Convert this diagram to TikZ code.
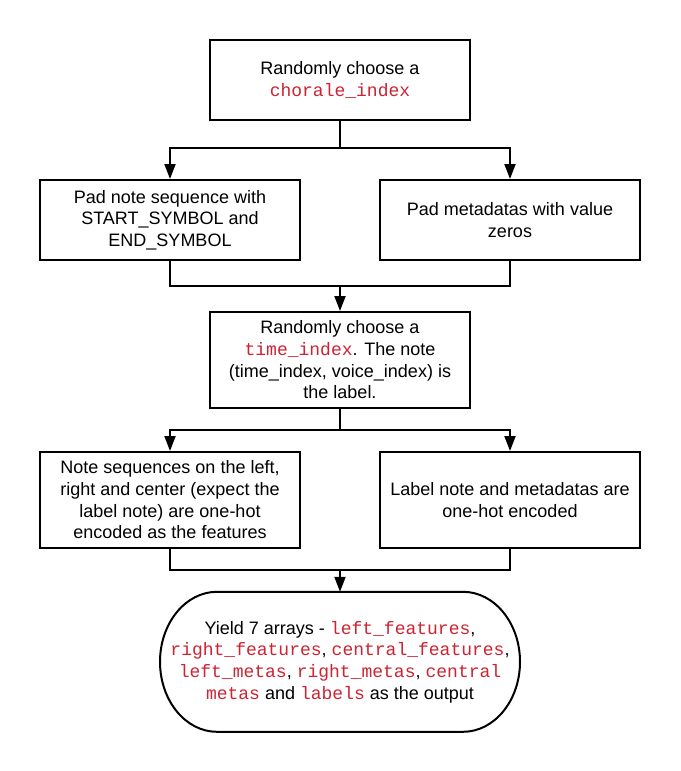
\documentclass[tikz,border=0pt]{standalone}
\usepackage{fontspec}
\setmainfont{Liberation Sans}
\setmonofont{Liberation Mono}
\usetikzlibrary{arrows.meta}
\definecolor{codered}{RGB}{205,35,50}
\newcommand{\code}[1]{\textcolor{codered}{\texttt{#1}}}

\begin{document}
\begin{tikzpicture}[
    x=1pt, y=-1pt,
    every node/.style={font=\fontsize{18}{21.7}\selectfont},
    stepbox/.style={draw, rectangle, line width=2pt, fill=white, align=center, minimum width=260pt, minimum height=80pt},
    tallbox/.style={stepbox, minimum height=96pt},
    endbox/.style={rectangle, align=center, minimum width=360pt, minimum height=140pt},
    line/.style={line width=2pt},
    arrow/.style={line width=2pt, -{Triangle[length=15pt,width=11pt]}}
]
\useasboundingbox (0,0) rectangle (680,771);

% First step
\node[stepbox] (chorale) at (340,80) {Randomly choose a\\\code{chorale\_index}};

% Padding
\node[stepbox] (padnotes) at (170,220) {Pad note sequence with\\START\_SYMBOL and\\END\_SYMBOL};
\node[stepbox] (padmetas) at (510,220) {Pad metadatas with value\\zeros};

% Choose the time index
\node[tallbox] (timeidx) at (340,360) {Randomly choose a\\\code{time\_index}. The note\\(time\_index, voice\_index) is\\the label.};

% Encoding
\node[tallbox] (features) at (170,500) {Note sequences on the left,\\right and center (expect the\\label note) are one-hot\\encoded as the features};
\node[tallbox] (labels) at (510,500) {Label note and metadatas are\\one-hot encoded};

% Output (terminator)
\node[endbox] (output) at (340,662) {Yield 7 arrays - \code{left\_features},\\\code{right\_features}, \code{central\_features},\\\code{left\_metas}, \code{right\_metas}, \code{central}\\\code{metas} and \code{labels} as the output};
\draw[line] (output.north) -- ++(123,0)
    arc[start angle=90, end angle=-90, x radius=57, y radius=-70]
    -- ++(-246,0)
    arc[start angle=270, end angle=90, x radius=57, y radius=-70] -- cycle;

% Junctions
\coordinate (split1) at (340,148);
\coordinate (merge1) at (340,286);
\coordinate (split2) at (340,430);
\coordinate (merge2) at (340,570);

% Connectors
\draw[line] (chorale.south) -- (split1);
\draw[arrow] (split1) -| (padnotes.north);
\draw[arrow] (split1) -| (padmetas.north);
\draw[line] (padnotes.south) |- (merge1) -| (padmetas.south);
\draw[arrow] (merge1) -- (timeidx.north);
\draw[line] (timeidx.south) -- (split2);
\draw[arrow] (split2) -| (features.north);
\draw[arrow] (split2) -| (labels.north);
\draw[line] (features.south) |- (merge2) -| (labels.south);
\draw[arrow] (merge2) -- (output.north);
\end{tikzpicture}
\end{document}
